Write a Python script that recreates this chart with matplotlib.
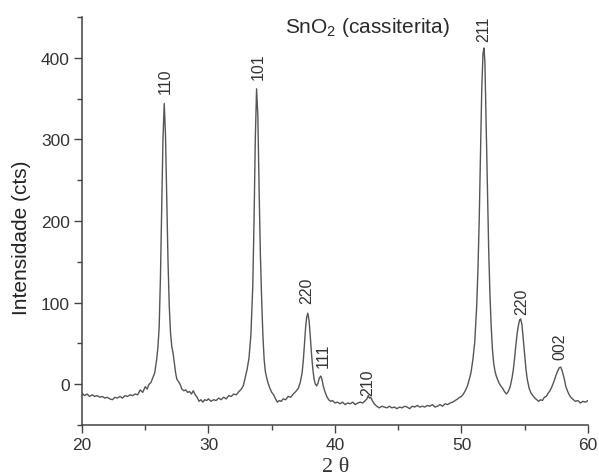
import matplotlib

matplotlib.use("Agg")
import matplotlib.pyplot as plt
from matplotlib.ticker import MultipleLocator

plt.rcParams["font.family"] = ["Liberation Sans", "DejaVu Sans"]
plt.rcParams["mathtext.default"] = "regular"

# diffractogram, read point by point (2theta in degrees, counts)
two_theta = [
    20.0, 20.2, 20.4, 20.6, 20.8, 21.0, 21.2, 21.4, 21.6, 21.8, 22.0, 22.2, 22.4, 22.6,
    22.8, 23.0, 23.2, 23.4, 23.6, 23.8, 24.0, 24.2, 24.4, 24.6, 24.8, 25.0, 25.15, 25.3,
    25.45, 25.6, 25.75, 25.9, 26.0, 26.1, 26.2, 26.3, 26.4, 26.5, 26.6, 26.7, 26.8, 26.9,
    27.0, 27.1, 27.2, 27.3, 27.4, 27.5, 27.6, 27.75, 27.9, 28.05, 28.2, 28.35, 28.5, 28.65,
    28.8, 28.95, 29.1, 29.25, 29.4, 29.55, 29.7, 29.85, 30.0, 30.2, 30.4, 30.6, 30.8, 31.0,
    31.2, 31.4, 31.6, 31.8, 32.0, 32.2, 32.4, 32.6, 32.75, 32.9, 33.05, 33.2, 33.35, 33.5,
    33.6, 33.7, 33.8, 33.9, 34.0, 34.1, 34.2, 34.3, 34.4, 34.5, 34.6, 34.7, 34.85, 35.0,
    35.15, 35.3, 35.45, 35.6, 35.75, 35.9, 36.1, 36.3, 36.5, 36.7, 36.9, 37.1, 37.25, 37.4,
    37.5, 37.6, 37.68, 37.76, 37.85, 37.95, 38.05, 38.15, 38.25, 38.35, 38.45, 38.55, 38.65,
    38.75, 38.87, 38.97, 39.07, 39.2, 39.35, 39.5, 39.65, 39.8, 40.0, 40.2, 40.4, 40.6,
    40.8, 41.0, 41.2, 41.4, 41.6, 41.8, 42.0, 42.2, 42.4, 42.52, 42.63, 42.72, 42.82, 42.95,
    43.1, 43.3, 43.5, 43.7, 43.9, 44.1, 44.3, 44.5, 44.7, 44.9, 45.1, 45.3, 45.5, 45.7,
    45.9, 46.1, 46.3, 46.5, 46.7, 46.9, 47.1, 47.3, 47.5, 47.7, 47.9, 48.1, 48.3, 48.5,
    48.7, 48.9, 49.1, 49.3, 49.5, 49.7, 49.85, 50.0, 50.15, 50.3, 50.45, 50.6, 50.75, 50.9,
    51.05, 51.2, 51.3, 51.4, 51.5, 51.6, 51.7, 51.78, 51.85, 51.95, 52.05, 52.15, 52.25,
    52.35, 52.45, 52.55, 52.65, 52.75, 52.85, 52.95, 53.1, 53.25, 53.4, 53.55, 53.7, 53.85,
    54.0, 54.1, 54.2, 54.3, 54.4, 54.5, 54.6, 54.68, 54.78, 54.88, 55.0, 55.1, 55.2, 55.35,
    55.5, 55.65, 55.8, 55.95, 56.1, 56.25, 56.4, 56.55, 56.7, 56.85, 57.0, 57.15, 57.3,
    57.45, 57.6, 57.72, 57.84, 57.95, 58.05, 58.15, 58.25, 58.4, 58.55, 58.7, 58.85, 59.0,
    59.2, 59.4, 59.6, 59.8, 60.0,
]
counts = [
    -11, -14, -12, -15, -13, -15, -14, -16, -15, -17, -16, -18, -19, -16,
    -17, -15, -17, -14, -15, -13, -14, -12, -13, -7, -10, -3, -6, 0,
    2, 8, 14, 30, 45, 70, 130, 215, 300, 344, 305, 225, 150, 95,
    62, 46, 38, 26, 14, 6, 4, 0, -6, -8, -7, -10, -9, -12,
    -8, -13, -16, -21, -19, -22, -19, -20, -18, -21, -19, -20, -17, -19,
    -16, -18, -14, -15, -12, -13, -9, -6, -2, 8, 18, 32, 60, 120,
    200, 300, 362, 330, 240, 160, 105, 60, 30, 15, 8, 2, -5, -10,
    -13, -18, -22, -20, -21, -18, -19, -15, -16, -12, -9, -5, 2, 14,
    30, 52, 70, 82, 87, 78, 58, 36, 18, 6, 0, -2, 1,
    7, 10, 6, -2, -9, -15, -19, -21, -20, -23, -22, -24, -22,
    -25, -23, -24, -22, -25, -23, -22, -23, -20, -18, -14, -17, -16, -20,
    -24, -27, -29, -27, -28, -29, -27, -29, -28, -30, -28, -29, -27, -28,
    -30, -27, -28, -26, -28, -27, -28, -26, -27, -25, -28, -27, -25, -27,
    -24, -25, -23, -22, -20, -18, -16, -15, -12, -8, -3, 5, 14, 30,
    52, 95, 140, 200, 280, 360, 405, 412, 395, 320, 240, 165, 110,
    70, 42, 25, 16, 10, 6, 2, -2, -5, -9, -12, -9, -3,
    8, 18, 32, 48, 62, 72, 79, 80, 73, 56, 35, 18, 6, -5,
    -11, -14, -17, -19, -21, -19, -20, -16, -15, -11, -8, -3, 3,
    10, 16, 20, 21, 17, 11, 5, -3, -9, -14, -17, -19, -21,
    -20, -23, -21, -22, -20,
]

# Miller indices written above the reflections
hkl_text = ["110", "101", "220", "111", "210", "211", "220", "002"]
hkl_x = [26.6, 33.9, 37.8, 39.1, 42.6, 51.75, 54.8, 57.8]
hkl_y = [357, 374, 100, 21, -13, 420, 86, 31]

LINE = "#555555"
INK = "#333333"

fig = plt.figure(figsize=(5.99, 4.77), dpi=100)
ax = fig.add_axes([0.1369, 0.1069, 0.8447, 0.8554])

ax.plot(two_theta, counts, color=LINE, lw=1.0)

for txt, x, y in zip(hkl_text, hkl_x, hkl_y):
    ax.text(x, y, txt, rotation=90, ha="center", va="bottom", fontsize=11.5, color=INK)

ax.text(42.6, 431, "SnO$_2$ (cassiterita)", ha="center", va="baseline",
        fontsize=15, color="#2a2a2a")

ax.set_xlim(20, 60)
ax.set_ylim(-50, 450)
ax.xaxis.set_major_locator(MultipleLocator(10))
ax.xaxis.set_minor_locator(MultipleLocator(5))
ax.yaxis.set_major_locator(MultipleLocator(100))
ax.yaxis.set_minor_locator(MultipleLocator(50))
ax.set_yticks([0, 100, 200, 300, 400])

for side in ("top", "right"):
    ax.spines[side].set_visible(False)
for side in ("left", "bottom"):
    ax.spines[side].set_color("#444444")
    ax.spines[side].set_linewidth(1.1)

ax.tick_params(which="major", length=5.8, width=1.0, color="#444444",
               labelsize=12.5, labelcolor=INK, pad=3)
ax.tick_params(which="minor", length=3.4, width=1.0, color="#444444")

fig.text(27.3 / 599, 1 - 238 / 477, "Intensidade (cts)", rotation=90,
         rotation_mode="anchor", ha="center", va="baseline", fontsize=15,
         color="#222222")
fig.text(336 / 599, 1 - 472 / 477, "2 θ", ha="center", va="baseline",
         fontsize=16, color=INK, family=["Liberation Serif", "DejaVu Serif"])

fig.savefig("out.png", dpi=100)
